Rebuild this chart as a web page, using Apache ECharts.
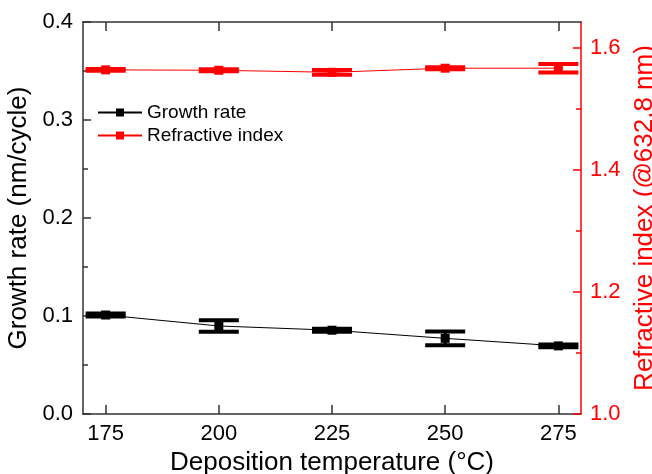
<!DOCTYPE html>
<html>
<head>
<meta charset="utf-8">
<script src="https://cdn.jsdelivr.net/npm/echarts@6/dist/echarts.min.js"></script>
<style>
  html, body { margin: 0; padding: 0; background: #fff; }
  #main { width: 652px; height: 474px; }
</style>
</head>
<body>
<div id="main"></div>
<script>
// deposition temperature (°C)
var temps = [175, 200, 225, 250, 275];
var tempTicks = [175, 200, 225, 250, 275];
// growth rate (nm/cycle) and its error
var growthRate = [0.101, 0.0898, 0.0855, 0.0772, 0.0695];
var growthErr = [0.0015, 0.0058, 0.0015, 0.0071, 0.0015];
// refractive index @632.8 nm and its error
var refIndex = [1.5645, 1.5638, 1.5605, 1.5672, 1.5672];
var refErr = [0.0016, 0.0016, 0.0039, 0.0016, 0.0069];
var refMajorTicks = [1.0, 1.2, 1.4, 1.6];
var refMinorTicks = [1.1, 1.3, 1.5];

var FONT = "'Liberation Sans', Arial, sans-serif";
var AXIS_GRAY = "#333";

var myChart = echarts.init(document.getElementById("main"));

function pairs(xs, ys, es) {
  return xs.map(function (x, i) {
    return es ? [x, ys[i], es[i]] : [x, ys[i]];
  });
}

// error bar: vertical stem + two caps
function errorBar(color) {
  return function (params, api) {
    var x = api.value(0);
    var y = api.value(1);
    var e = api.value(2);
    var top = api.coord([x, y + e]);
    var bot = api.coord([x, y - e]);
    var hw = 20;
    return {
      type: "group",
      children: [
        {
          type: "line",
          shape: { x1: top[0], y1: top[1], x2: bot[0], y2: bot[1] },
          style: { stroke: color, lineWidth: 3 },
        },
        {
          type: "line",
          shape: { x1: top[0] - hw, y1: top[1], x2: top[0] + hw, y2: top[1] },
          style: { stroke: color, lineWidth: 4 },
        },
        {
          type: "line",
          shape: { x1: bot[0] - hw, y1: bot[1], x2: bot[0] + hw, y2: bot[1] },
          style: { stroke: color, lineWidth: 4 },
        },
      ],
    };
  };
}

var option = {
  animation: false,
  textStyle: { fontFamily: FONT },
  grid: {
    left: 83,
    right: 71,
    top: 22,
    bottom: 60,
    containLabel: false,
    outerBoundsMode: "none",
  },
  legend: {
    data: ["Growth rate", "Refractive index"],
    orient: "vertical",
    left: 97,
    top: 103,
    padding: 0,
    itemWidth: 44,
    itemHeight: 10,
    itemGap: 4,
    textStyle: { fontFamily: FONT, fontSize: 19, color: "#000" },
  },
  xAxis: [
    {
      type: "value",
      position: "bottom",
      min: 170,
      max: 280,
      name: "Deposition temperature (°C)",
      nameLocation: "middle",
      nameGap: 32,
      nameTextStyle: { fontFamily: FONT, fontSize: 26, color: "#000" },
      axisLine: { lineStyle: { color: AXIS_GRAY, width: 1.5 } },
      axisTick: {
        inside: true,
        length: 9,
        customValues: tempTicks,
        lineStyle: { color: AXIS_GRAY, width: 1.5 },
      },
      axisLabel: {
        customValues: tempTicks,
        margin: 9,
        fontSize: 22,
        color: "#000",
        fontFamily: FONT,
      },
      splitLine: { show: false },
    },
    {
      type: "value",
      position: "top",
      min: 170,
      max: 280,
      axisLine: { lineStyle: { color: AXIS_GRAY, width: 1.5 } },
      axisTick: {
        inside: true,
        length: 9,
        customValues: tempTicks,
        lineStyle: { color: AXIS_GRAY, width: 1.5 },
      },
      axisLabel: { show: false },
      splitLine: { show: false },
    },
  ],
  yAxis: [
    {
      type: "value",
      position: "left",
      min: 0,
      max: 0.4,
      interval: 0.1,
      name: "Growth rate (nm/cycle)",
      nameLocation: "middle",
      nameGap: 42,
      nameTextStyle: { fontFamily: FONT, fontSize: 26, color: "#000" },
      axisLine: { show: true, lineStyle: { color: AXIS_GRAY, width: 1.5 } },
      axisTick: {
        show: true,
        inside: true,
        length: 8,
        lineStyle: { color: AXIS_GRAY, width: 1.5 },
      },
      minorTick: {
        show: true,
        splitNumber: 2,
        length: 5,
        lineStyle: { color: AXIS_GRAY, width: 1.5 },
      },
      axisLabel: {
        margin: 10,
        fontSize: 22,
        color: "#000",
        fontFamily: FONT,
        formatter: function (v) {
          return v.toFixed(1);
        },
      },
      splitLine: { show: false },
    },
    {
      type: "value",
      position: "right",
      min: 1.0,
      max: 1.643,
      name: "Refractive index (@632.8 nm)",
      nameLocation: "middle",
      nameGap: 41,
      nameRotate: 90,
      nameTextStyle: { fontFamily: FONT, fontSize: 26, color: "#ff0000" },
      axisLine: { show: true, lineStyle: { color: "#ff0000", width: 1.5 } },
      axisTick: {
        show: true,
        inside: true,
        length: 8,
        customValues: refMajorTicks,
        lineStyle: { color: "#ff0000", width: 1.5 },
      },
      axisLabel: {
        customValues: refMajorTicks,
        margin: 9,
        fontSize: 22,
        color: "#ff0000",
        fontFamily: FONT,
        formatter: function (v) {
          return v.toFixed(1);
        },
      },
      splitLine: { show: false },
    },
    {
      // minor ticks of the right axis
      type: "value",
      position: "right",
      min: 1.0,
      max: 1.643,
      axisLine: { show: false },
      axisTick: {
        show: true,
        inside: true,
        length: 5,
        customValues: refMinorTicks,
        lineStyle: { color: "#ff0000", width: 1.5 },
      },
      axisLabel: { show: false },
      splitLine: { show: false },
    },
  ],
  series: [
    {
      name: "Growth rate err",
      type: "custom",
      xAxisIndex: 0,
      yAxisIndex: 0,
      renderItem: errorBar("#000"),
      encode: { x: 0, y: 1 },
      data: pairs(temps, growthRate, growthErr),
      z: 2,
    },
    {
      name: "Refractive index err",
      type: "custom",
      xAxisIndex: 0,
      yAxisIndex: 1,
      renderItem: errorBar("#ff0000"),
      encode: { x: 0, y: 1 },
      data: pairs(temps, refIndex, refErr),
      z: 2,
    },
    {
      name: "Growth rate",
      type: "line",
      xAxisIndex: 0,
      yAxisIndex: 0,
      data: pairs(temps, growthRate),
      symbol: "rect",
      symbolSize: 9,
      itemStyle: { color: "#000" },
      lineStyle: { color: "#000", width: 1 },
      z: 3,
    },
    {
      name: "Refractive index",
      type: "line",
      xAxisIndex: 0,
      yAxisIndex: 1,
      data: pairs(temps, refIndex),
      symbol: "rect",
      symbolSize: 9,
      itemStyle: { color: "#ff0000" },
      lineStyle: { color: "#ff0000", width: 1 },
      z: 3,
    },
  ],
};

myChart.setOption(option);
</script>
</body>
</html>
